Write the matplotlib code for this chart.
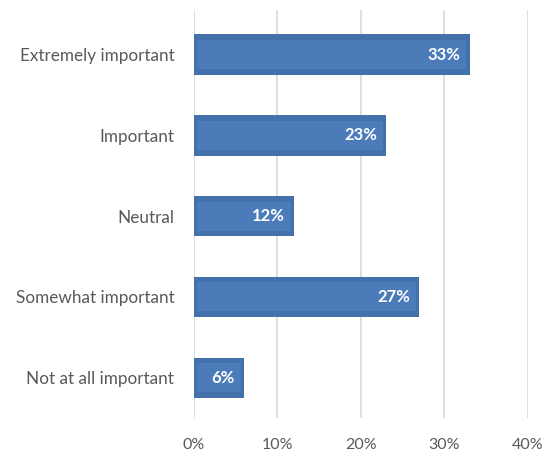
import matplotlib.pyplot as plt

categorias = ["Extremely important", "Important", "Neutral",
              "Somewhat important", "Not at all important"]
valores = [33, 23, 12, 27, 6]
ticks_x = [0, 10, 20, 30, 40]

plt.rcParams['font.family'] = ['Lato', 'DejaVu Sans']

fig = plt.figure(figsize=(5.6, 4.58), dpi=100)
ax = fig.add_axes([0.346, 0.087, 0.597, 0.891])

pos = list(range(len(categorias)))

# barra exterior (borde mas oscuro) y barra interior mas clara
ax.barh(pos, valores, height=0.5, color='#4470ab', zorder=3)
ax.barh(pos, [v - 0.8 for v in valores], left=0.4, height=0.36,
        color='#4b7cb9', zorder=4)

for p, v in zip(pos, valores):
    ax.text(v - 1.1, p, f"{v}%", ha='right', va='center', color='white',
            fontsize=12, fontweight='bold', zorder=5)

ax.set_xlim(0, 40)
ax.set_ylim(4.5, -0.55)
ax.set_xticks(ticks_x)
ax.set_xticklabels([f"{t}%" for t in ticks_x])
ax.set_yticks(pos)
ax.set_yticklabels(categorias)
ax.tick_params(length=0, labelcolor='#595959')
ax.tick_params(axis='x', pad=14, labelsize=11.5)
ax.tick_params(axis='y', pad=14, labelsize=12.3)

ax.grid(axis='x', color='#d9d9d9', linewidth=1.2, zorder=0)
for s in ax.spines.values():
    s.set_visible(False)

fig.savefig("out.png", dpi=100)
